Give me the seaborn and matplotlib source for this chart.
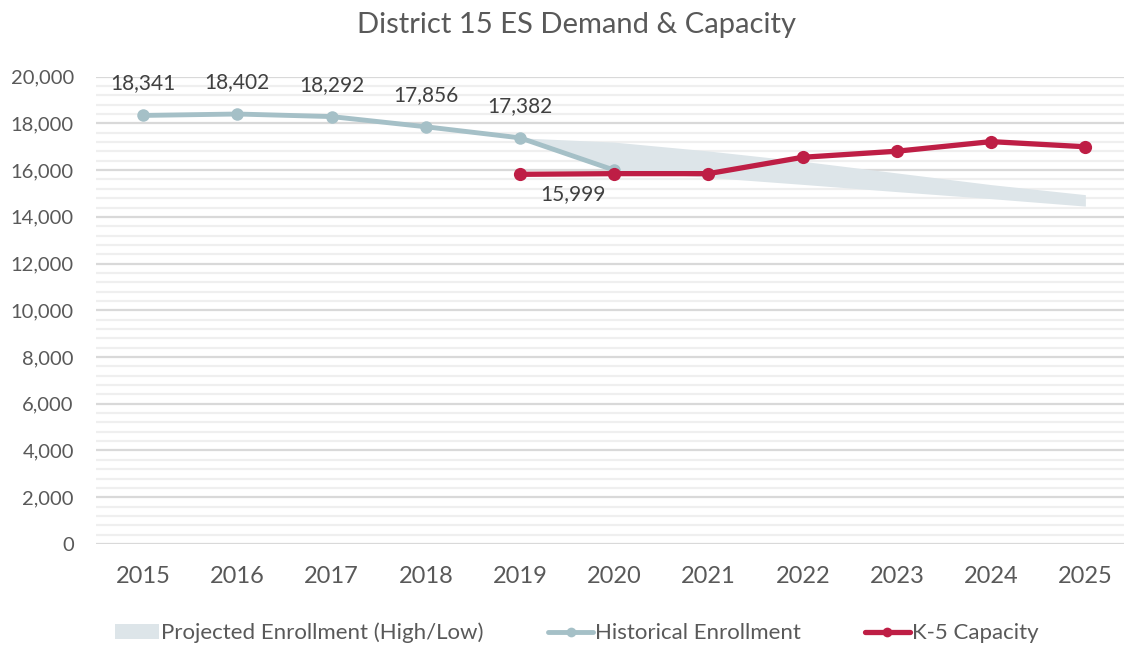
import matplotlib
matplotlib.use("Agg")
import matplotlib.pyplot as plt
import seaborn as sns
import pandas as pd
from matplotlib.ticker import MultipleLocator, FuncFormatter
from matplotlib.patches import Patch
from matplotlib.lines import Line2D

years = [2015, 2016, 2017, 2018, 2019, 2020, 2021, 2022, 2023, 2024, 2025]

hist_years = [2015, 2016, 2017, 2018, 2019, 2020]
hist_enroll = [18341, 18402, 18292, 17856, 17382, 15999]

cap_years = [2019, 2020, 2021, 2022, 2023, 2024, 2025]
capacity = [15820, 15850, 15850, 16550, 16810, 17220, 17000]

proj_years = [2019, 2020, 2021, 2022, 2023, 2024, 2025]
proj_high = [17382, 17200, 16820, 16380, 15880, 15380, 14950]
proj_low = [17382, 15999, 15690, 15390, 15080, 14780, 14460]

hist_color = "#a5c0c7"
cap_color = "#be1e45"
band_color = "#dde5e9"
text_color = "#595959"

sns.set_style("white")
plt.rcParams['font.family'] = ['Lato', 'DejaVu Sans']

fig = plt.figure(figsize=(11.24, 6.46), dpi=100)
ax = fig.add_axes([0.0854, 0.158, 0.9146, 0.7233])

hist_df = pd.DataFrame({'year': hist_years, 'value': hist_enroll})
cap_df = pd.DataFrame({'year': cap_years, 'value': capacity})

ax.fill_between(proj_years, proj_low, proj_high, color=band_color, lw=0, zorder=2)
sns.lineplot(data=hist_df, x='year', y='value', ax=ax, color=hist_color, lw=3.5,
             marker='o', markersize=9, markeredgewidth=0, zorder=3)
sns.lineplot(data=cap_df, x='year', y='value', ax=ax, color=cap_color, lw=3.8,
             marker='o', markersize=9.5, markeredgewidth=0, zorder=4)

# data labels
for i, (x, v) in enumerate(zip(hist_years, hist_enroll)):
    if i == len(hist_years) - 1:
        ax.annotate(f"{v:,}", (x, v), xytext=(-30, -17), textcoords='offset points',
                    ha='center', va='center', fontsize=15, color='#404040')
    else:
        ax.annotate(f"{v:,}", (x, v), xytext=(0, 23), textcoords='offset points',
                    ha='center', va='center', fontsize=15, color='#404040')

ax.set_xlim(2014.5, 2025.41)
ax.set_ylim(0, 20000)
ax.set_xticks(years)
ax.yaxis.set_major_locator(MultipleLocator(2000))
ax.yaxis.set_minor_locator(MultipleLocator(400))
ax.yaxis.set_major_formatter(FuncFormatter(lambda v, p: f"{int(v):,}"))
ax.grid(axis='y', which='major', color='#d9d9d9', lw=1.6, zorder=0)
ax.grid(axis='y', which='minor', color='#efefef', lw=1.6, zorder=0)
ax.grid(axis='x', visible=False)
ax.set_axisbelow(True)
for s in ax.spines.values():
    s.set_visible(False)
ax.set_xlabel('')
ax.set_ylabel('')
ax.tick_params(axis='y', which='both', length=0, pad=16, labelsize=14.5, labelcolor=text_color)
ax.tick_params(axis='x', length=0, pad=16, labelsize=17, labelcolor=text_color)

fig.text(0.513, 0.961, "District 15 ES Demand & Capacity", ha='center', va='center',
         fontsize=21, color=text_color)

handles = [
    Patch(facecolor=band_color, edgecolor='none'),
    Line2D([0], [0], color=hist_color, lw=3.5, marker='o', markersize=7, markeredgewidth=0),
    Line2D([0], [0], color=cap_color, lw=3.8, marker='o', markersize=7, markeredgewidth=0),
]
labels = ["Projected Enrollment (High/Low)", "Historical Enrollment", "K-5 Capacity"]
fig.legend(handles, labels, loc='center', bbox_to_anchor=(0.513, 0.02), ncol=3,
           frameon=False, fontsize=16, labelcolor=text_color, handlelength=2.0,
           handletextpad=0.1, columnspacing=2.9)

fig.savefig("out.png", dpi=100)
